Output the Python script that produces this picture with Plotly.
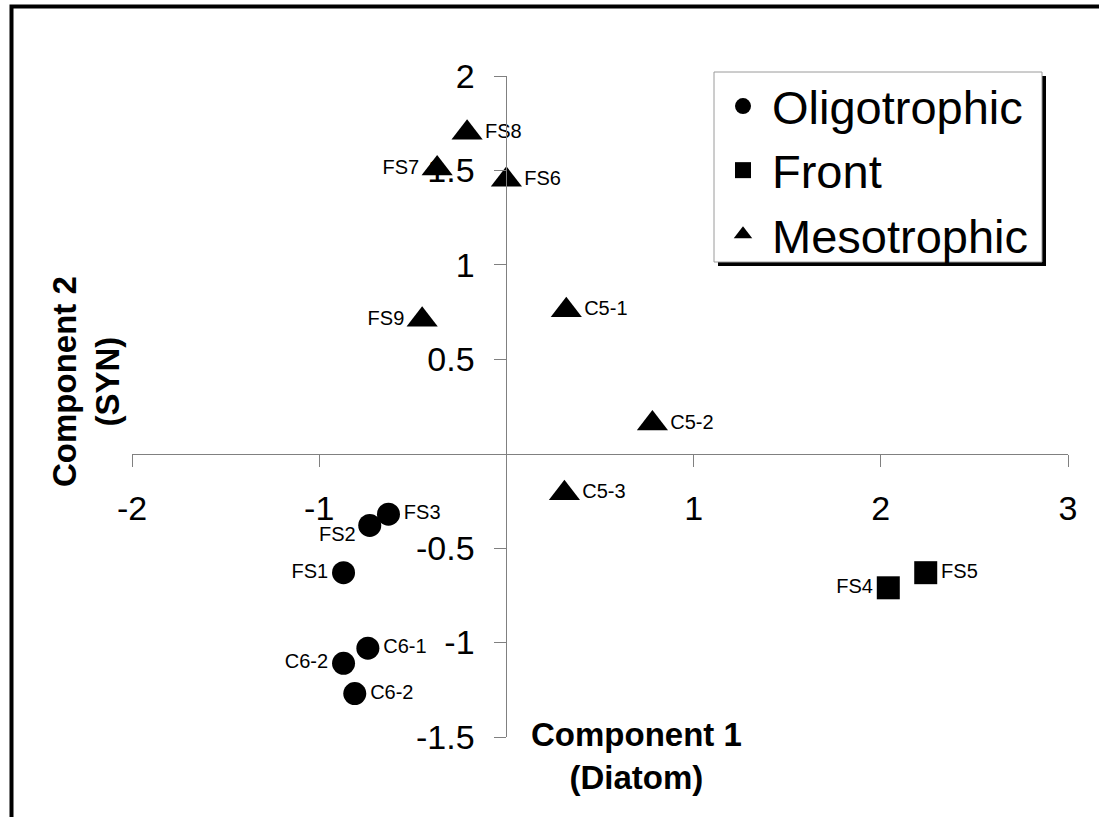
import plotly.graph_objects as go

# ---- data ----
oligo_names = ["FS1", "FS2", "FS3", "C6-1", "C6-2", "C6-2"]
oligo_x = [-0.87, -0.73, -0.63, -0.74, -0.87, -0.81]
oligo_y = [-0.63, -0.38, -0.32, -1.03, -1.11, -1.27]
oligo_pos = ["middle left", "middle left", "middle right", "middle right", "middle left", "middle right"]

front_names = ["FS4", "FS5"]
front_x = [2.04, 2.24]
front_y = [-0.71, -0.63]
front_pos = ["middle left", "middle right"]

meso_names = ["FS6", "FS7", "FS8", "FS9", "C5-1", "C5-2", "C5-3"]
meso_x = [0.0, -0.37, -0.21, -0.45, 0.32, 0.78, 0.31]
meso_y = [1.45, 1.51, 1.70, 0.71, 0.76, 0.16, -0.21]
meso_pos = ["middle right", "middle left", "middle right", "middle left", "middle right", "middle right", "middle right"]

x_ticks = [-2, -1, 1, 2, 3]
y_ticks = [-1.5, -1, -0.5, 0.5, 1, 1.5, 2]
x_range = [-2, 3]
y_range = [-1.5, 2]

FONT = "Liberation Sans, Arial, sans-serif"
LBL = dict(family=FONT, size=20, color="black")

# labels that sit slightly lower than the marker centre (drawn as annotations)
low_labels = {"FS2"}

def trace_text(names):
    return ["" if n in low_labels else n for n in names]

fig = go.Figure()
fig.add_trace(go.Scatter(
    x=oligo_x, y=oligo_y, text=trace_text(oligo_names), textposition=oligo_pos,
    mode="markers+text", name="Oligotrophic", cliponaxis=False,
    marker=dict(symbol="circle", size=23, color="black"), textfont=LBL))
fig.add_trace(go.Scatter(
    x=front_x, y=front_y, text=front_names, textposition=front_pos,
    mode="markers+text", name="Front", cliponaxis=False,
    marker=dict(symbol="square", size=23, color="black"), textfont=LBL))
fig.add_trace(go.Scatter(
    x=meso_x, y=meso_y, text=meso_names, textposition=meso_pos,
    mode="markers+text", name="Mesotrophic", cliponaxis=False,
    marker=dict(symbol="triangle-up", size=27, color="black"), textfont=LBL))

for n, xv, yv in zip(oligo_names, oligo_x, oligo_y):
    if n in low_labels:
        fig.add_annotation(x=xv, y=yv, xref="x", yref="y", text=n, showarrow=False,
                           xanchor="right", yanchor="middle", xshift=-12, yshift=-9,
                           font=LBL)

# axes crossing at the origin
x_cross = (0 - x_range[0]) / (x_range[1] - x_range[0])
y_cross = (0 - y_range[0]) / (y_range[1] - y_range[0])

def px_x(p):
    return (p - 132) / 936

def px_y(p):
    return (737 - p) / 661

fig.update_layout(
    width=1099, height=817,
    margin=dict(l=132, r=31, t=76, b=80),
    paper_bgcolor="white", plot_bgcolor="white",
    font=dict(family=FONT, color="black"),
    xaxis=dict(range=x_range, showgrid=False, zeroline=False,
               anchor="free", position=y_cross,
               showline=True, linecolor="#808080", linewidth=1,
               ticks="outside", ticklen=12, tickcolor="#808080", tickwidth=1,
               tickvals=x_ticks, ticktext=[str(v) for v in x_ticks],
               tickfont=dict(size=34), ticklabelstandoff=12),
    yaxis=dict(range=y_range, showgrid=False, zeroline=False,
               anchor="free", position=x_cross,
               showline=True, linecolor="#808080", linewidth=1,
               ticks="outside", ticklen=12, tickcolor="#808080", tickwidth=1,
               tickvals=y_ticks, ticktext=[f"{v:g}" for v in y_ticks],
               tickfont=dict(size=34), ticklabelstandoff=13),
    legend=dict(x=px_x(714), y=px_y(69), xanchor="left", yanchor="top",
                bgcolor="rgba(0,0,0,0)", borderwidth=0,
                font=dict(size=47, family=FONT), itemwidth=48, tracegroupgap=0),
    showlegend=True,
)

# axis titles
fig.add_annotation(xref="paper", yref="paper", x=px_x(636), y=px_y(756),
                   text="<b>Component 1</b><br><b>(Diatom)</b>", showarrow=False,
                   font=dict(size=33, family=FONT), xanchor="center", yanchor="middle")
fig.add_annotation(xref="paper", yref="paper", x=px_x(86), y=px_y(382),
                   text="<b>Component 2</b><br><b>(SYN)</b>", showarrow=False, textangle=-90,
                   font=dict(size=33, family=FONT), xanchor="center", yanchor="middle")

# legend box with drop shadow
fig.add_shape(type="rect", xref="paper", yref="paper",
              x0=px_x(718), x1=px_x(1046), y0=px_y(266), y1=px_y(76),
              fillcolor="black", line=dict(width=0), layer="below")
fig.add_shape(type="rect", xref="paper", yref="paper",
              x0=px_x(714), x1=px_x(1042), y0=px_y(262), y1=px_y(72),
              fillcolor="white", line=dict(color="#9a9a9a", width=1), layer="below")

# outer frame (top and left visible; right/bottom run off the page)
fig.add_shape(type="rect", xref="paper", yref="paper",
              x0=px_x(11.5), x1=px_x(1130), y0=px_y(850), y1=px_y(6.5),
              line=dict(color="black", width=4), fillcolor="rgba(0,0,0,0)", layer="above")

fig.write_html("out.html")
